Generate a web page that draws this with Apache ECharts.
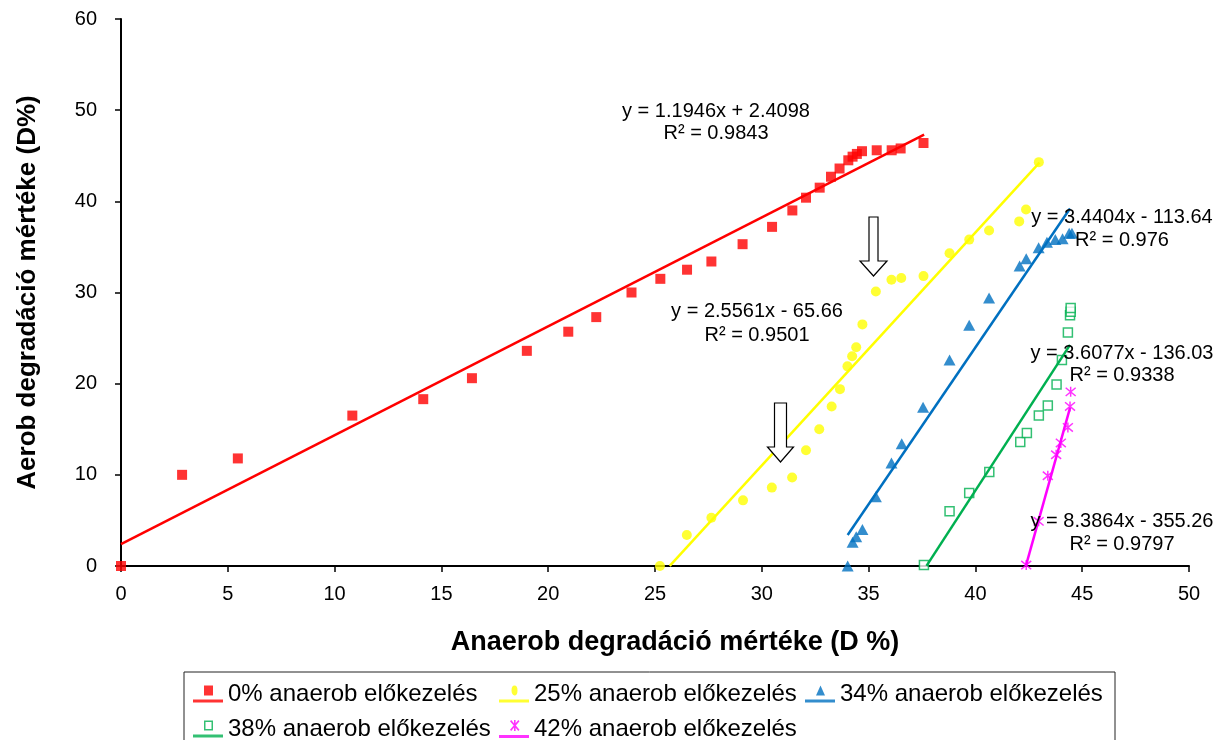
<!DOCTYPE html>
<html>
<head>
<meta charset="utf-8">
<script src="https://cdn.jsdelivr.net/npm/echarts@6/dist/echarts.min.js"></script>
<style>
html,body{margin:0;padding:0;background:#fff;}
#chart{width:1228px;height:740px;}
</style>
</head>
<body>
<div id="chart"></div>
<script>
// ---------- DATA ----------
const seriesNames = ['0% anaerob előkezelés', '25% anaerob előkezelés', '34% anaerob előkezelés', '38% anaerob előkezelés', '42% anaerob előkezelés'];

const pre0 = [[0,0],[2.86,10.0],[5.47,11.8],[10.83,16.5],[14.15,18.3],[16.43,20.6],[19.0,23.6],[20.94,25.7],[22.25,27.3],[23.9,30.0],[25.25,31.5],[26.5,32.5],[27.64,33.4],[29.1,35.3],[30.48,37.2],[31.43,39.0],[32.07,40.4],[32.71,41.5],[33.24,42.7],[33.64,43.6],[34.05,44.5],[34.25,44.9],[34.45,45.2],[34.69,45.5],[35.38,45.6],[36.08,45.6],[36.5,45.8],[37.57,46.4]];
const pre25 = [[25.23,0.0],[26.49,3.4],[27.64,5.3],[29.12,7.2],[30.47,8.6],[31.42,9.7],[32.07,12.7],[32.69,15.0],[33.27,17.5],[33.66,19.4],[34.01,21.9],[34.23,23.0],[34.42,24.0],[34.71,26.5],[35.34,30.1],[36.07,31.4],[36.53,31.6],[37.57,31.8],[38.79,34.3],[39.71,35.8],[40.64,36.8],[42.05,37.8],[42.37,39.1],[42.97,44.3]];
const pre34 = [[34.02,0.0],[34.25,2.6],[34.42,3.2],[34.71,4.0],[35.34,7.6],[36.07,11.3],[36.55,13.4],[37.55,17.4],[38.79,22.6],[39.71,26.4],[40.64,29.4],[42.07,32.9],[42.38,33.7],[42.96,34.9],[43.35,35.5],[43.74,35.8],[44.08,35.9],[44.39,36.5],[44.52,36.5]];
const pre38 = [[37.59,0.1],[38.79,6.0],[39.71,8.0],[40.65,10.3],[42.1,13.6],[42.41,14.6],[42.97,16.5],[43.39,17.6],[43.8,19.9],[44.05,22.6],[44.33,25.6],[44.43,27.5],[44.46,27.9],[44.46,28.3]];
const pre42 = [[42.38,0.1],[42.96,4.9],[43.39,9.9],[43.78,12.2],[44.0,13.5],[44.33,15.2],[44.43,17.5],[44.46,19.1]];

// linear trendlines as printed on the chart: y = slope*x + intercept, drawn over [xStart, xEnd]
const trendSlope = [1.1946, 2.5561, 3.4404, 3.6077, 8.3864];
const trendIntercept = [2.4098, -65.66, -113.64, -136.03, -355.26];
const trendXStart = [0, 25.69, 34.02, 37.71, 42.36];
const trendXEnd = [37.6, 43.0, 44.43, 44.43, 44.43];
const eqLabels = ['y = 1.1946x + 2.4098', 'y = 2.5561x - 65.66', 'y = 3.4404x - 113.64', 'y = 3.6077x - 136.03', 'y = 8.3864x - 355.26'];
const r2Labels = ['R² = 0.9843', 'R² = 0.9501', 'R² = 0.976', 'R² = 0.9338', 'R² = 0.9797'];

const xTitle = 'Anaerob degradáció mértéke (D %)';
const yTitle = 'Aerob degradáció mértéke (D%)';

// ---------- STYLE ----------
const colors = ['#ff0000', '#ffff00', '#0070c0', '#00b050', '#ff00ff'];
const FONT = "'Liberation Sans', Arial, sans-serif";
const allData = [pre0, pre25, pre34, pre38, pre42];

const markerSymbols = ['rect', 'circle', 'triangle', 'rect', 'path://M0,0L10,10M10,0L0,10M5,-1L5,11'];
const markerSizes = [10, 10, [12, 11], 9, 10];
const markerStyles = [
  {color: colors[0]},
  {color: colors[1]},
  {color: colors[2]},
  {color: '#ffffff', borderColor: colors[3], borderWidth: 1.5},
  {color: 'rgba(0,0,0,0)', borderColor: colors[4], borderWidth: 1.5}
];
const LINE = 'M0,15h30v3h-30z';
const legendIcons = [
  'path://M11,1h9v10h-9z ' + LINE,
  'path://M15.5,1 a3,5 0 1,0 0.01,0z ' + LINE,
  'path://M15.5,1 L20,11 L11,11 Z ' + LINE,
  'path://M11,1h9v10h-9z M12.5,2.5v7h6v-7z ' + LINE,
  'path://M15,0h1.6v11h-1.6z M11,1.2 L12.2,0 L20.5,9.8 L19.3,11Z M19.3,0 L20.5,1.2 L12.2,11 L11,9.8Z ' + LINE
];

const series = [];
allData.forEach((d, i) => {
  series.push({
    name: seriesNames[i],
    type: 'scatter',
    data: d,
    symbol: markerSymbols[i],
    symbolSize: markerSizes[i],
    itemStyle: markerStyles[i],
    z: 2,
    emphasis: {disabled: true}
  });
});
allData.forEach((d, i) => {
  const x1 = trendXStart[i], x2 = trendXEnd[i];
  series.push({
    name: 'trend' + i,
    type: 'line',
    data: [[x1, trendSlope[i] * x1 + trendIntercept[i]], [x2, trendSlope[i] * x2 + trendIntercept[i]]],
    showSymbol: false,
    symbol: 'none',
    silent: true,
    lineStyle: {color: colors[i], width: 2.5},
    z: 3
  });
});

// equation label positions (pixel centres)
const eqPos = [[716, 111, 133], [757, 311, 335], [1122, 217, 240], [1122, 353, 375], [1122, 521, 544]];
const graphics = [];
eqPos.forEach((p, i) => {
  graphics.push({type: 'text', x: p[0], y: p[1], z: 10,
    style: {text: eqLabels[i], font: '20px ' + FONT, fill: '#000', align: 'center', verticalAlign: 'middle'}});
  graphics.push({type: 'text', x: p[0], y: p[2], z: 10,
    style: {text: r2Labels[i], font: '20px ' + FONT, fill: '#000', align: 'center', verticalAlign: 'middle'}});
});
function arrow(cx, top, headTop, tip, shaftHalf, headHalf) {
  return {type: 'polygon', z: 10,
    shape: {points: [[cx - shaftHalf, top], [cx + shaftHalf, top], [cx + shaftHalf, headTop], [cx + headHalf, headTop], [cx, tip], [cx - headHalf, headTop], [cx - shaftHalf, headTop]]},
    style: {fill: '#fff', stroke: '#000', lineWidth: 1.2}};
}
graphics.push(arrow(873.5, 217, 261, 276, 4.5, 13.5));
graphics.push(arrow(780.5, 403, 447, 462, 6, 13));

const chart = echarts.init(document.getElementById('chart'), null, {renderer: 'canvas'});
chart.setOption({
  animation: false,
  backgroundColor: '#fff',
  textStyle: {fontFamily: FONT},
  grid: {left: 121, top: 19, width: 1068, height: 547, containLabel: false},
  xAxis: {
    type: 'value', min: 0, max: 50, interval: 5,
    name: xTitle, nameLocation: 'middle', nameGap: 63,
    nameTextStyle: {fontSize: 27, fontWeight: 'bold', color: '#000', fontFamily: FONT, padding: [0, 0, 0, 40]},
    axisLine: {lineStyle: {color: '#000', width: 2}},
    axisTick: {show: true, length: 6, lineStyle: {color: '#000', width: 1.5}},
    axisLabel: {fontSize: 20, color: '#000', margin: 18, fontFamily: FONT},
    splitLine: {show: false}
  },
  yAxis: {
    type: 'value', min: 0, max: 60, interval: 10,
    name: yTitle, nameLocation: 'middle', nameGap: 80, nameRotate: 90,
    nameTextStyle: {fontSize: 26, fontWeight: 'bold', color: '#000', fontFamily: FONT},
    axisLine: {show: true, lineStyle: {color: '#000', width: 2}},
    axisTick: {show: true, length: 6, lineStyle: {color: '#000', width: 1.5}},
    axisLabel: {fontSize: 20, color: '#000', margin: 24, fontFamily: FONT},
    splitLine: {show: false}
  },
  legend: {
    left: 184, top: 672, width: 918,
    padding: [7, 9, 10, 9],
    itemGap: 5,
    itemWidth: 30, itemHeight: 18,
    borderColor: '#222', borderWidth: 1,
    selectedMode: false,
    textStyle: {fontSize: 24, color: '#000', fontFamily: FONT, width: 266, lineHeight: 30},
    data: seriesNames.map((n, i) => ({name: n, icon: legendIcons[i], itemStyle: {color: colors[i], borderWidth: 0}}))
  },
  series: series,
  graphic: graphics
});
</script>
</body>
</html>
